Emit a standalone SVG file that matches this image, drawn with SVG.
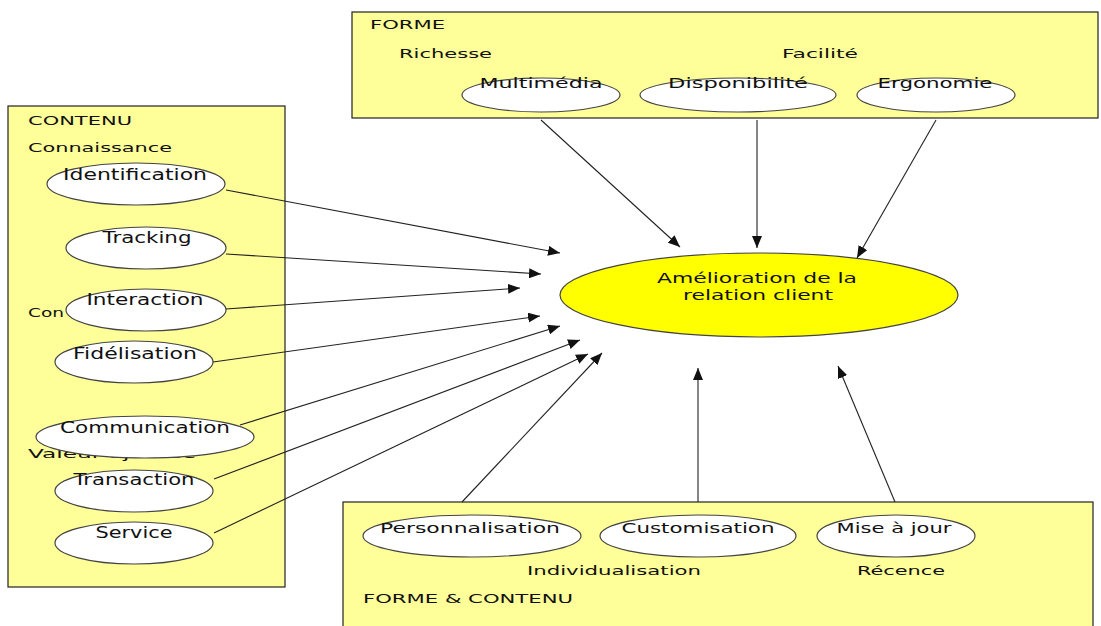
<svg xmlns="http://www.w3.org/2000/svg" width="1101" height="626" viewBox="0 0 1101 626">
<defs>
<marker id="arr" markerUnits="userSpaceOnUse" markerWidth="13" markerHeight="10" refX="12" refY="5" orient="auto">
<path d="M0,0 L12,5 L0,10 z" fill="#111"/>
</marker>
<style>
.panel{fill:#ffff99;stroke:#222;stroke-width:1.2}
.el{fill:#fff;stroke:#444;stroke-width:1.2}
.main{fill:#ffff00;stroke:#444;stroke-width:1.2}
text{font-family:"DejaVu Sans","Liberation Sans",sans-serif;fill:#111}
.pl{font-size:13px}
.ll{font-size:15px;text-anchor:middle}
.ol{font-size:13.5px;text-anchor:middle}
.con line{stroke:#222;stroke-width:1.1;marker-end:url(#arr)}
</style>
</defs>
<rect width="1101" height="626" fill="#fff"/>

<g id="panel-contenu">
<rect class="panel" x="8" y="106" width="277" height="481"/>
<text class="pl" x="28" y="125" textLength="104" lengthAdjust="spacingAndGlyphs">CONTENU</text>
<text class="pl" x="28" y="152" textLength="144" lengthAdjust="spacingAndGlyphs">Connaissance</text>
<text class="pl" x="28" y="317" textLength="36" lengthAdjust="spacingAndGlyphs">Con</text>
<text class="pl" x="28" y="458" textLength="168" lengthAdjust="spacingAndGlyphs">Valeur ajoutée</text>
</g>

<g id="panel-forme">
<rect class="panel" x="352" y="12" width="746" height="106"/>
<text class="pl" x="370" y="29" textLength="75" lengthAdjust="spacingAndGlyphs">FORME</text>
<text class="pl" x="399" y="58" textLength="93" lengthAdjust="spacingAndGlyphs">Richesse</text>
<text class="pl" x="782" y="58" textLength="76" lengthAdjust="spacingAndGlyphs">Facilité</text>
</g>

<g id="panel-forme-contenu">
<rect class="panel" x="343" y="502" width="750" height="140"/>
<text class="pl" x="527" y="575" textLength="174" lengthAdjust="spacingAndGlyphs">Individualisation</text>
<text class="pl" x="857" y="575" textLength="88" lengthAdjust="spacingAndGlyphs">Récence</text>
<text class="pl" x="363" y="603" textLength="210" lengthAdjust="spacingAndGlyphs">FORME &amp; CONTENU</text>
</g>

<g id="identification"><ellipse class="el" cx="136" cy="184" rx="89" ry="21"/><text class="ll" x="135" y="180" textLength="144" lengthAdjust="spacingAndGlyphs">Identification</text></g>
<g id="tracking"><ellipse class="el" cx="146" cy="248" rx="80" ry="21"/><text class="ll" x="147" y="243" textLength="89" lengthAdjust="spacingAndGlyphs">Tracking</text></g>
<g id="interaction"><ellipse class="el" cx="146" cy="310" rx="80" ry="21"/><text class="ll" x="145" y="305" textLength="117" lengthAdjust="spacingAndGlyphs">Interaction</text></g>
<g id="fidelisation"><ellipse class="el" cx="134" cy="362" rx="79" ry="21"/><text class="ll" x="135" y="359" textLength="124" lengthAdjust="spacingAndGlyphs">Fidélisation</text></g>
<g id="communication"><ellipse class="el" cx="145" cy="437" rx="109" ry="21"/><text class="ll" x="145" y="433" textLength="170" lengthAdjust="spacingAndGlyphs">Communication</text></g>
<g id="transaction"><ellipse class="el" cx="134" cy="491" rx="79" ry="21"/><text class="ll" x="134" y="485" textLength="121" lengthAdjust="spacingAndGlyphs">Transaction</text></g>
<g id="service"><ellipse class="el" cx="134" cy="543" rx="79" ry="21"/><text class="ll" x="134" y="538" textLength="77" lengthAdjust="spacingAndGlyphs">Service</text></g>

<g id="multimedia"><ellipse class="el" cx="541" cy="95" rx="79" ry="17"/><text class="ol" x="541" y="88" textLength="123" lengthAdjust="spacingAndGlyphs">Multimédia</text></g>
<g id="disponibilite"><ellipse class="el" cx="738" cy="95" rx="98" ry="17"/><text class="ol" x="738" y="88" textLength="140" lengthAdjust="spacingAndGlyphs">Disponibilité</text></g>
<g id="ergonomie"><ellipse class="el" cx="936" cy="95" rx="79" ry="17"/><text class="ol" x="935" y="88" textLength="115" lengthAdjust="spacingAndGlyphs">Ergonomie</text></g>

<g id="personnalisation"><ellipse class="el" cx="472" cy="536" rx="109" ry="21"/><text class="ol" x="470" y="533" textLength="180" lengthAdjust="spacingAndGlyphs">Personnalisation</text></g>
<g id="customisation"><ellipse class="el" cx="698" cy="536" rx="98" ry="21"/><text class="ol" x="698" y="533" textLength="153" lengthAdjust="spacingAndGlyphs">Customisation</text></g>
<g id="mise-a-jour"><ellipse class="el" cx="896" cy="536" rx="79" ry="21"/><text class="ol" x="894" y="533" textLength="115" lengthAdjust="spacingAndGlyphs">Mise à jour</text></g>

<g id="connectors" class="con">
<line x1="226" y1="190" x2="560" y2="253"/>
<line x1="226" y1="254" x2="541" y2="274"/>
<line x1="226" y1="309" x2="520" y2="288"/>
<line x1="213" y1="362" x2="540" y2="316"/>
<line x1="240" y1="425" x2="560" y2="326"/>
<line x1="214" y1="479" x2="580" y2="340"/>
<line x1="214" y1="533" x2="588" y2="354"/>
<line x1="541" y1="120" x2="680" y2="247"/>
<line x1="757" y1="120" x2="757" y2="248"/>
<line x1="936" y1="120" x2="857" y2="258"/>
<line x1="462" y1="502" x2="602" y2="353"/>
<line x1="698" y1="502" x2="698" y2="368"/>
<line x1="895" y1="502" x2="838" y2="366"/>
</g>

<g id="amelioration">
<ellipse class="main" cx="759" cy="295" rx="199" ry="42"/>
<text class="ol" x="757" y="283" textLength="200" lengthAdjust="spacingAndGlyphs">Amélioration de la</text>
<text class="ol" x="758" y="300" textLength="150" lengthAdjust="spacingAndGlyphs">relation client</text>
</g>
</svg>
